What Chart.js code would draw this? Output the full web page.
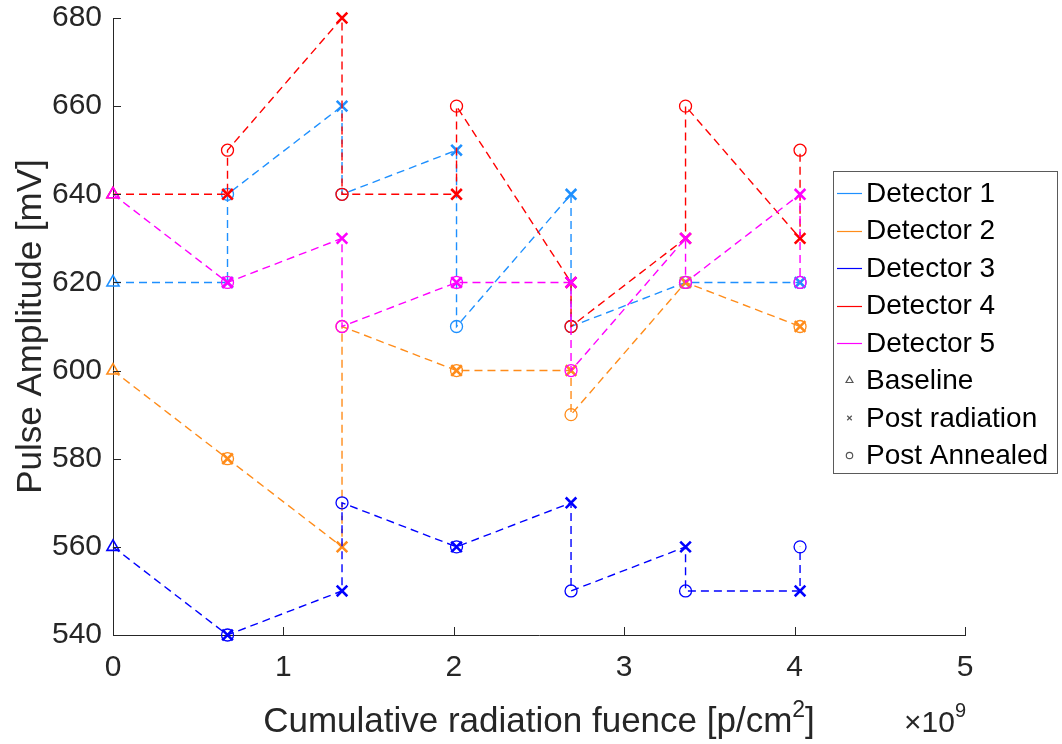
<!DOCTYPE html>
<html>
<head>
<meta charset="utf-8">
<script src="https://cdn.jsdelivr.net/npm/chart.js@4.4.0/dist/chart.umd.min.js"></script>
<style>
  html, body { margin: 0; padding: 0; background: #fff; }
  #wrap { width: 1062px; height: 744px; position: relative; }
</style>
</head>
<body>
<div id="wrap"><canvas id="chart" width="1062" height="744"></canvas></div>
<script>
// Pulse amplitude vs cumulative fluence, 5 detectors
// fluence in units of 1e9 p/cm^2 (axis shows the x10^9 multiplier)

const fluence = [0, 0.672, 1.344, 2.016, 2.688, 3.36, 4.032];

const detectorNames = ['Detector 1', 'Detector 2', 'Detector 3', 'Detector 4', 'Detector 5'];
const detectorColors = ['#1E90FF', '#FF8C1A', '#0000FF', '#FF0000', '#FF00FF'];

// amplitude before any radiation (mV)
const baseline = [620, 600, 560, 640, 640];

// after each radiation step (mV), one row per detector
const postRadiation = [
  [620, 660, 650, 640, 620, 620],
  [580, 560, 600, 600, 620, 610],
  [540, 550, 560, 570, 560, 550],
  [640, 680, 640, 620, 630, 630],
  [620, 630, 620, 620, 630, 640]
];

// after annealing, same steps (mV)
const postAnnealed = [
  [640, 640, 610, 610, 620, 620],
  [580, 610, 600, 590, 620, 610],
  [540, 570, 560, 550, 550, 560],
  [650, 640, 660, 610, 660, 650],
  [620, 610, 620, 600, 620, 620]
];

const markerNames = ['Baseline', 'Post radiation', 'Post Annealed'];
const xTicks = [0, 1, 2, 3, 4, 5];
const yTicks = [540, 560, 580, 600, 620, 640, 660, 680];

const FONT = "'Liberation Sans', Arial, Helvetica, sans-serif";
const AXIS_COLOR = '#262626';

// marker look per measurement kind: baseline / post radiation / annealed
const markerStyle = ['triangle', 'crossRot', 'circle'];
const markerRadius = [7, 7.5, 6];
const markerWidth = [1.6, 2.6, 1.3];

/**
 * Build the measurement sequence of one detector:
 * baseline, then (radiated, annealed) at each fluence step
 */
function buildSeries(d) {
  const pts = [{ x: fluence[0], y: baseline[d], kind: 0 }];
  for (let i = 0; i < postRadiation[d].length; i++) {
    pts.push({ x: fluence[i + 1], y: postRadiation[d][i], kind: 1 });
    pts.push({ x: fluence[i + 1], y: postAnnealed[d][i], kind: 2 });
  }
  return pts;
}

const datasets = detectorNames.map((name, d) => ({
  label: name,
  data: buildSeries(d),
  showLine: true,
  clip: false,
  borderColor: detectorColors[d],
  borderWidth: 1.4,
  borderDash: [8, 5],
  tension: 0,
  fill: false,
  order: detectorNames.length - d,   // later detectors on top
  pointStyle: ctx => markerStyle[ctx.raw.kind],
  pointRadius: ctx => markerRadius[ctx.raw.kind],
  pointBorderWidth: ctx => markerWidth[ctx.raw.kind],
  pointBorderColor: detectorColors[d],
  pointBackgroundColor: 'rgba(0,0,0,0)'
}));

// inward ticks, axis titles, multiplier and the boxed legend
const decorPlugin = {
  id: 'decor',
  afterDraw(chart) {
    const { ctx, chartArea, scales } = chart;
    const xs = scales.x, ys = scales.y;
    ctx.save();

    // tick marks pointing into the plot
    ctx.strokeStyle = AXIS_COLOR;
    ctx.lineWidth = 1;
    ctx.beginPath();
    xTicks.forEach(v => {
      const px = Math.round(xs.getPixelForValue(v)) + 0.5;
      ctx.moveTo(px, chartArea.bottom);
      ctx.lineTo(px, chartArea.bottom - 8);
    });
    yTicks.forEach(v => {
      const py = Math.round(ys.getPixelForValue(v)) + 0.5;
      ctx.moveTo(chartArea.left, py);
      ctx.lineTo(chartArea.left + 8, py);
    });
    ctx.stroke();

    // x title with superscript
    ctx.fillStyle = AXIS_COLOR;
    ctx.textBaseline = 'alphabetic';
    const mainTxt = 'Cumulative radiation fuence [p/cm';
    ctx.font = `35px ${FONT}`;
    const w1 = ctx.measureText(mainTxt).width;
    const w3 = ctx.measureText(']').width;
    ctx.font = `23px ${FONT}`;
    const w2 = ctx.measureText('2').width;
    const cx = (chartArea.left + chartArea.right) / 2;
    const tx = cx - (w1 + w2 + w3) / 2;
    const tBase = 732;
    ctx.font = `35px ${FONT}`;
    ctx.textAlign = 'left';
    ctx.fillText(mainTxt, tx, tBase);
    ctx.font = `23px ${FONT}`;
    ctx.fillText('2', tx + w1, tBase - 15);
    ctx.font = `35px ${FONT}`;
    ctx.fillText(']', tx + w1 + w2, tBase);

    // x10^9 multiplier at the right end of the x axis
    ctx.font = `20px ${FONT}`;
    const we = ctx.measureText('9').width;
    ctx.font = `30px ${FONT}`;
    const wm = ctx.measureText('\u00D710').width;
    const mx = chartArea.right + 1 - we - wm;
    ctx.fillText('\u00D710', mx, tBase);
    ctx.font = `20px ${FONT}`;
    ctx.fillText('9', mx + wm, tBase - 15);

    // y title
    ctx.save();
    ctx.translate(31, (chartArea.top + chartArea.bottom) / 2);
    ctx.rotate(-Math.PI / 2);
    ctx.font = `35px ${FONT}`;
    ctx.textAlign = 'center';
    ctx.textBaseline = 'middle';
    ctx.fillText('Pulse Amplitude [mV]', 0, 0);
    ctx.restore();

    // legend box
    const lx = 833.5, ly = 171.5, lw = 224, lh = 302;
    ctx.fillStyle = '#fff';
    ctx.fillRect(lx, ly, lw, lh);
    ctx.strokeStyle = '#5a5a5a';
    ctx.lineWidth = 1;
    ctx.strokeRect(lx, ly, lw, lh);

    const rowY = i => 193 + i * 37.5;
    ctx.font = `28px ${FONT}`;
    ctx.textAlign = 'left';
    ctx.textBaseline = 'middle';

    detectorNames.forEach((name, i) => {
      const y = Math.round(rowY(i)) + 0.5;
      ctx.strokeStyle = detectorColors[i];
      ctx.lineWidth = 1.2;
      ctx.beginPath();
      ctx.moveTo(837, y);
      ctx.lineTo(862, y);
      ctx.stroke();
      ctx.fillStyle = '#000';
      ctx.fillText(name, 866, rowY(i) + 1);
    });

    markerNames.forEach((name, j) => {
      const y = rowY(detectorNames.length + j);
      ctx.strokeStyle = '#555';
      ctx.fillStyle = 'rgba(0,0,0,0)';
      Chart.helpers.drawPoint(ctx, {
        pointStyle: markerStyle[j],
        radius: j === 0 ? 4 : 3.2,
        borderWidth: 1
      }, 849.5, y);
      ctx.fillStyle = '#000';
      ctx.fillText(name, 866, y + 1);
    });

    ctx.restore();
  }
};

new Chart(document.getElementById('chart'), {
  type: 'scatter',
  data: { datasets },
  options: {
    responsive: false,
    animation: false,
    events: [],
    layout: { padding: { top: 18, right: 97, left: 0, bottom: 0 } },
    plugins: {
      legend: { display: false },
      tooltip: { enabled: false }
    },
    scales: {
      x: {
        type: 'linear',
        min: 0,
        max: 5,
        afterBuildTicks: s => { s.ticks = xTicks.map(v => ({ value: v })); },
        afterFit: s => { s.height = 109; s.paddingLeft = 0; s.paddingRight = 0; },
        grid: { display: false, drawTicks: false },
        border: { display: true, color: AXIS_COLOR, width: 1 },
        ticks: {
          padding: 15,
          color: AXIS_COLOR,
          font: { family: FONT, size: 30 },
          callback: v => String(v)
        }
      },
      y: {
        type: 'linear',
        min: 540,
        max: 680,
        afterBuildTicks: s => { s.ticks = yTicks.map(v => ({ value: v })); },
        afterFit: s => { s.width = 113; s.paddingTop = 0; s.paddingBottom = 0; },
        grid: { display: false, drawTicks: false },
        border: { display: true, color: AXIS_COLOR, width: 1 },
        ticks: {
          padding: 11,
          color: AXIS_COLOR,
          font: { family: FONT, size: 30, lineHeight: 1 },
          callback: v => String(v)
        }
      }
    }
  },
  plugins: [decorPlugin]
});
</script>
</body>
</html>
